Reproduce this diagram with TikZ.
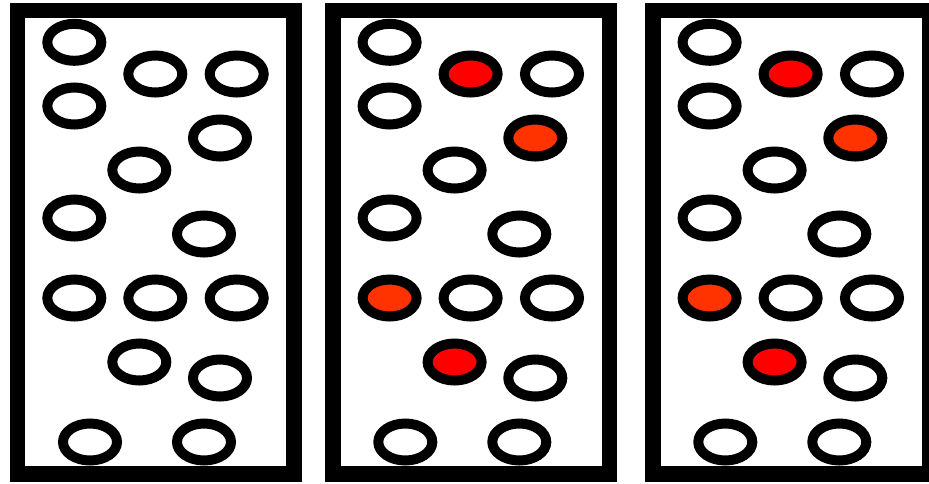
\documentclass[tikz,border=0pt]{standalone}
\usepackage{xcolor}
\usepackage{tikz}
\usetikzlibrary{shapes.geometric}

\definecolor{hotred}{RGB}{255,0,0}
\definecolor{warmred}{RGB}{255,51,0}

\begin{document}
\begin{tikzpicture}[x=1pt, y=-1pt,
    box/.style={draw=black, line width=15.5pt, fill=white},
    cell/.style={ellipse, draw=black, line width=10pt, inner sep=0pt, minimum width=54pt, minimum height=37pt}]

    \useasboundingbox (0,0) rectangle (929,483);

    % Panels
    \foreach \p/\dx in {1/0, 2/315.3, 3/635.3} {
        \draw [box] (17.5+\dx,10.5) rectangle (294+\dx,474);
        % Cells
        \foreach \n/\x/\y/\f in {1/74.3/42.3/white, 2/155.3/74/hotred, 3/236.7/74/white,
                                 4/74.3/106/white, 5/220/138/warmred, 6/139.3/170/white,
                                 7/74.3/218/white, 8/204/234/white, 9/74.3/298/warmred,
                                 10/155.3/298/white, 11/236.7/298/white, 12/139.3/362/hotred,
                                 13/220/378/white, 14/90/442/white, 15/204/442/white} {
            \ifnum\p=1 \def\fc{white}\else \def\fc{\f}\fi
            \node [cell, fill=\fc] (c\p-\n) at (\x+\dx,\y) {};
        }
    }

\end{tikzpicture}
\end{document}
